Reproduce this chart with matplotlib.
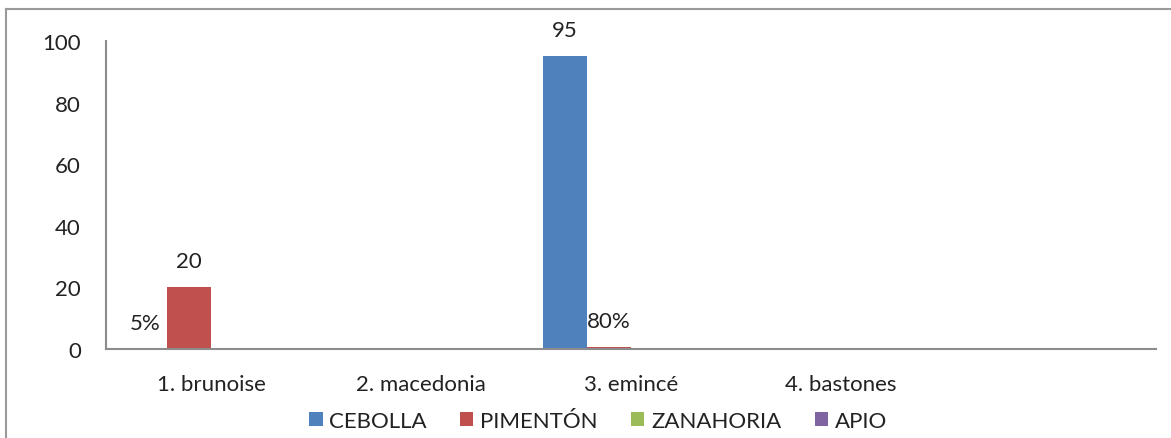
import numpy as np
import matplotlib
matplotlib.use("Agg")
import matplotlib.pyplot as plt
from matplotlib.lines import Line2D

categories = ["1. brunoise", "2. macedonia", "3. emincé", "4. bastones", ""]
series_names = ["CEBOLLA", "PIMENTÓN", "ZANAHORIA", "APIO"]
cebolla = [0.05, np.nan, 95, np.nan, np.nan]
pimenton = [20, np.nan, 0.8, np.nan, np.nan]
zanahoria = [np.nan, np.nan, np.nan, np.nan, np.nan]
apio = [np.nan, np.nan, np.nan, np.nan, np.nan]
colors = ["#4F81BD", "#C0504D", "#9BBB59", "#8064A2"]
yticks = [0, 20, 40, 60, 80, 100]

plt.rcParams['font.family'] = ['Lato', 'DejaVu Sans']

W, H = 1171, 439
fig = plt.figure(figsize=(W / 100, H / 100), dpi=100)
ax = fig.add_axes([106 / W, 1 - 350 / H, (1156 - 106) / W, (350 - 42) / H])

FS = 16
x = np.arange(len(categories))
bw = 44 / 210
data = [cebolla, pimenton, zanahoria, apio]
for i, (vals, name, col) in enumerate(zip(data, series_names, colors)):
    vals = np.array(vals, dtype=float)
    pos = x + (i - 1.5) * bw
    ax.bar(pos, np.nan_to_num(vals), width=bw, color=col, label=name, linewidth=0)
    for p, v in zip(pos, vals):
        if np.isnan(v):
            continue
        lab = f"{v:.0%}" if v < 1 else f"{v:.0f}"
        ax.annotate(lab, (p, v), xytext=(0, 26), textcoords="offset pixels",
                    ha="center", va="center", fontsize=FS, color="#222222")

ax.set_xlim(-0.5, len(categories) - 0.5)
ax.set_ylim(0, 100)
ax.set_yticks(yticks)
ax.set_xticks(x)
ax.set_xticklabels(categories)
ax.tick_params(axis="both", length=0, labelsize=FS, colors="#222222")
ax.tick_params(axis="y", pad=18)
ax.tick_params(axis="x", pad=18)
for s in ["top", "right"]:
    ax.spines[s].set_visible(False)
for s in ["left", "bottom"]:
    ax.spines[s].set_color("#8c8c8c")
    ax.spines[s].set_linewidth(1.5)

leg = fig.legend(loc="center", bbox_to_anchor=(598 / W, 1 - 422 / H), ncol=4,
                 frameon=False, fontsize=FS, handlelength=0.6, handleheight=0.6,
                 handletextpad=0.3, columnspacing=1.5, labelcolor="#222222")

# outer chart frame (partially visible)
fig.add_artist(Line2D([6 / W, 1.0], [1 - 10 / H, 1 - 10 / H], transform=fig.transFigure,
                      color="#9a9a9a", linewidth=1.5))
fig.add_artist(Line2D([6 / W, 6 / W], [0, 1 - 10 / H], transform=fig.transFigure,
                      color="#9a9a9a", linewidth=1.5))

fig.savefig("out.png", dpi=100)
